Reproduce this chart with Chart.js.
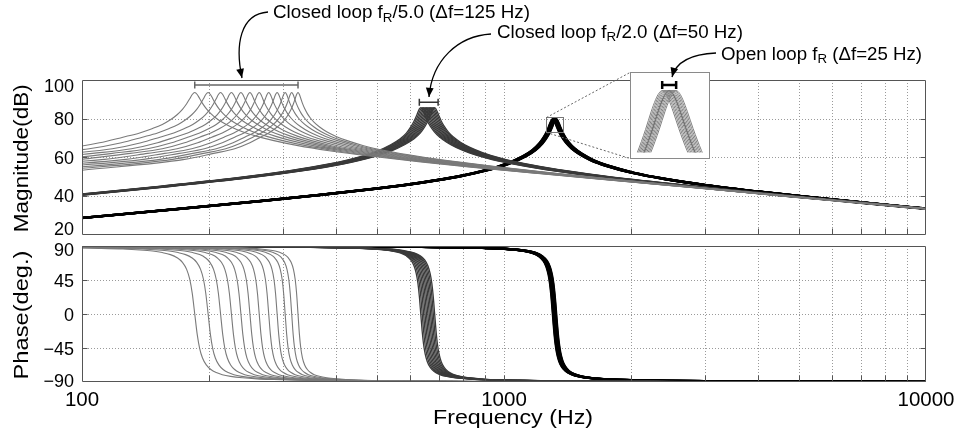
<!DOCTYPE html>
<html>
<head>
<meta charset="utf-8">
<title>Bode plot</title>
<script src="https://cdn.jsdelivr.net/npm/chart.js@4.4.1/dist/chart.umd.min.js"></script>
<style>
  html, body { margin: 0; padding: 0; background: #fff; }
  #wrap { position: relative; width: 964px; height: 433px; overflow: hidden; background: #fff; }
  #wrap canvas { position: absolute; }
</style>
</head>
<body>
<div id="wrap">
  <canvas id="magChart" width="964" height="240" style="left:0;top:0"></canvas>
  <canvas id="phaseChart" width="964" height="193" style="left:0;top:240px"></canvas>
  <canvas id="insetChart" width="80" height="87" style="left:630px;top:72px"></canvas>
  <canvas id="notes" width="964" height="170" style="left:0;top:0"></canvas>
</div>
<script>
// axes
const freqGrid = [200, 300, 400, 500, 600, 700, 800, 900, 1000, 2000, 3000, 4000, 5000, 6000, 7000, 8000, 9000];
const freqLabels = [100, 1000, 10000];
const magTicks = [20, 40, 60, 80, 100];
const magGrid = [40, 60, 80];
const phaseTicks = [-90, -45, 0, 45, 90];
const phaseGrid = [-45, 0, 45];
const magTitle = 'Magnitude(dB)';
const phaseTitle = 'Phase(deg.)';
const freqTitle = 'Frequency (Hz)';

// closed loop fR/5.0 : resonances (Hz), shape read around a peak as offsets in Hz
const fastPeaks = [185, 199, 213, 226, 238, 250, 263, 277, 290, 303, 314, 325];
const fastOffsets = [-225, -150, -120, -95, -75, -60, -48, -38, -30, -23, -17, -12, -8, -5, -2.5, 0,
  2.5, 5, 8, 12, 17, 23, 30, 40, 55, 75, 100, 140, 200, 300, 450, 650, 1000, 1500, 2500, 4000, 6500, 10000];
const fastMag = [53.3, 58.9, 62.0, 64.4, 67.5, 70.4, 72.6, 74.9, 77.0, 79.4, 82.0, 84.8, 87.7, 90.3, 92.5, 93.5,
  92.5, 90.4, 87.9, 85.2, 82.6, 80.2, 78.1, 75.8, 73.2, 70.8, 68.6, 66.0, 63.4, 60.5, 57.6, 54.9, 51.7, 48.6, 44.6, 40.8, 36.7, 33.1];
const fastPhase = [89.4, 88.9, 88.4, 87.8, 86.9, 86.0, 84.8, 83.3, 81.3, 78.6, 74.5, 68.4, 59.1, 46.0, 27.2, 0,
  -27.0, -45.4, -58.3, -67.4, -73.5, -77.5, -80.3, -82.5, -84.4, -85.8, -86.7, -87.6, -88.2, -88.7, -89.1, -89.3, -89.5, -89.7, -89.8, -89.9, -89.9, -89.9];

// closed loop fR/2.0 : resonances, and the middle curve (660 Hz) read at these frequencies
const midPeaks = [635, 640, 645, 650, 655, 660, 665, 670, 675, 680, 685];
const midRef = 660;
const midFreqs = [60, 100, 160, 240, 320, 400, 470, 520, 560, 590, 610, 625, 636, 644, 650, 655, 660,
  665, 670, 676, 684, 695, 710, 730, 760, 800, 860, 950, 1080, 1300, 1660, 2260, 3260, 4960, 7160, 10600];
const midMag = [36.1, 40.7, 45.1, 49.3, 52.9, 56.5, 60.1, 63.2, 66.5, 69.6, 72.5, 75.7, 78.6, 81.2, 83.4, 85.0, 85.7,
  85.0, 83.4, 81.3, 78.8, 76.1, 73.3, 70.6, 67.8, 65.1, 62.3, 59.4, 56.7, 53.6, 50.4, 47.0, 43.4, 39.5, 36.3, 32.8];
const midPhase = [89.8, 89.7, 89.5, 89.1, 88.7, 88.0, 87.0, 85.7, 83.7, 80.8, 77.0, 71.6, 63.9, 53.5, 40.1, 22.8, 0,
  -22.5, -39.7, -52.8, -63.1, -70.7, -76.1, -79.8, -82.7, -84.6, -86.1, -87.2, -88.0, -88.6, -89.0, -89.3, -89.6, -89.7, -89.8, -89.9];

// open loop fR : resonances, and the middle curve (1317.5 Hz)
const openPeaks = [1305, 1307.5, 1310, 1312.5, 1315, 1317.5, 1320, 1322.5, 1325, 1327.5, 1330];
const openRef = 1317.5;
const openFreqs = [77.5, 167.5, 267.5, 367.5, 497.5, 637.5, 777.5, 917.5, 1027.5, 1117.5, 1177.5, 1222.5, 1252.5,
  1272.5, 1287.5, 1297.5, 1305.5, 1311.5, 1317.5, 1323.5, 1329.5, 1337.5, 1347.5, 1362.5, 1382.5, 1412.5, 1457.5,
  1517.5, 1617.5, 1767.5, 2017.5, 2417.5, 3017.5, 4017.5, 5517.5, 7517.5, 10500];
const openMag = [26.3, 33.1, 37.4, 40.5, 43.8, 46.9, 50.0, 53.5, 56.9, 60.5, 63.7, 67.1, 70.3, 73.0, 75.5, 77.4, 78.7, 79.4, 79.7,
  79.4, 78.7, 77.4, 75.6, 73.2, 70.6, 67.7, 64.6, 61.8, 58.5, 55.4, 52.0, 48.7, 45.5, 42.2, 39.0, 36.0, 33.0];
const openPhase = [89.9, 89.7, 89.6, 89.4, 89.1, 88.7, 88.1, 87.2, 85.9, 83.7, 80.9, 76.4, 70.3, 62.5, 51.8, 40.1, 26.8, 14.1, 0,
  -14.0, -26.6, -39.7, -51.2, -61.6, -69.4, -75.4, -79.8, -82.7, -85.0, -86.5, -87.6, -88.4, -88.9, -89.2, -89.5, -89.6, -89.7];

// spread markers (Hz range, level in dB) and the zoomed window
const fastBar = [185, 325];
const fastBarDb = 97.4;
const midBar = [630, 698];
const midBarDb = 88.5;
const openBar = [1305, 1330];
const openBarDb = 80.3;
const insetFreq = [1259, 1379];
const insetDb = [73, 81];

const notes = [
  ['Closed loop f', 'R', '/5.0 (\u0394f=125 Hz)'],
  ['Closed loop f', 'R', '/2.0 (\u0394f=50 Hz)'],
  ['Open loop f', 'R', ' (\u0394f=25 Hz)']
];

const FONT = '"Liberation Sans", Arial, Helvetica, sans-serif';

// the same peak moved to another resonance: by a Hz offset, or by scaling the frequencies
function offsetCurve(f0, offsets, values) {
  return offsets.map((d, i) => ({ x: f0 + d, y: values[i] })).filter(p => p.x > 30);
}
function scaledCurve(f0, ref, freqs, values) {
  return freqs.map((f, i) => ({ x: f * f0 / ref, y: values[i] }));
}

function lineSet(data, color, width) {
  return {
    data: data,
    borderColor: color,
    borderWidth: width,
    pointRadius: 0,
    cubicInterpolationMode: 'monotone',
    fill: false
  };
}

function barSet(range, level, color, width, cap) {
  return {
    data: range.map(f => ({ x: f, y: level })),
    borderColor: color,
    borderWidth: width,
    pointStyle: 'line',
    pointRotation: 90,
    pointRadius: cap,
    pointBorderWidth: width,
    pointBorderColor: color,
    fill: false
  };
}

function tickText(v) {
  return v < 0 ? '\u2212' + (-v) : String(v);
}

// text squeezed/stretched to the width measured on the picture
function drawText(ctx, text, x, y, size, width, align) {
  ctx.save();
  ctx.font = size + 'px ' + FONT;
  const sx = width ? width / ctx.measureText(text).width : 1;
  ctx.translate(x, y);
  ctx.scale(sx, 1);
  ctx.textAlign = align || 'left';
  ctx.textBaseline = 'alphabetic';
  ctx.fillText(text, 0, 0);
  ctx.restore();
}

const bodeFrame = {
  id: 'bodeFrame',
  beforeDatasetsDraw(chart, args, o) {
    const { ctx, chartArea: a, scales: { x, y } } = chart;
    ctx.save();
    ctx.strokeStyle = '#9a9a9a';
    ctx.lineWidth = 1;
    ctx.setLineDash([1, 2]);
    ctx.beginPath();
    freqGrid.forEach(f => {
      const px = Math.round(x.getPixelForValue(f)) + 0.5;
      ctx.moveTo(px, a.top);
      ctx.lineTo(px, a.bottom);
    });
    o.grid.forEach(v => {
      const py = Math.round(y.getPixelForValue(v)) + 0.5;
      ctx.moveTo(a.left, py);
      ctx.lineTo(a.right, py);
    });
    ctx.stroke();
    ctx.restore();
  },
  afterDatasetsDraw(chart, args, o) {
    const { ctx, chartArea: a, scales: { x, y } } = chart;
    const L = Math.round(a.left) + 0.5, R = Math.round(a.right) - 0.5;
    const T = Math.round(a.top) + 0.5, B = Math.round(a.bottom) - 0.5;
    ctx.save();
    ctx.strokeStyle = '#555';
    ctx.lineWidth = 1;
    ctx.beginPath();
    ctx.rect(L, T, R - L, B - T);
    freqGrid.forEach(f => {
      const px = Math.round(x.getPixelForValue(f)) + 0.5;
      ctx.moveTo(px, B);
      ctx.lineTo(px, B - 6);
    });
    o.grid.forEach(v => {
      const py = Math.round(y.getPixelForValue(v)) + 0.5;
      ctx.moveTo(L, py); ctx.lineTo(L + 5, py);
      ctx.moveTo(R, py); ctx.lineTo(R - 5, py);
    });
    ctx.stroke();

    ctx.fillStyle = '#000';
    o.ticks.forEach(v => {
      const py = Math.min(Math.max(y.getPixelForValue(v), a.top + o.edge[0]), a.bottom - o.edge[1]);
      drawText(ctx, tickText(v), a.left - 8, py + 6.5, 18, 0, 'right');
    });
    if (o.xLabels) {
      freqLabels.forEach(f => drawText(ctx, String(f), x.getPixelForValue(f), a.bottom + 23.5, 20.5, 0, 'center'));
      drawText(ctx, freqTitle, 513, a.bottom + 41.5, 20, 160, 'center');
    }
    ctx.translate(27.5, (a.top + a.bottom) / 2 + 1);
    ctx.rotate(-Math.PI / 2);
    drawText(ctx, o.title, 0, 0, 20, o.titleWidth, 'center');
    ctx.restore();
  }
};

function bodeChart(id, datasets, yRange, pad, frame) {
  return new Chart(document.getElementById(id), {
    type: 'line',
    data: { datasets: datasets },
    plugins: [bodeFrame],
    options: {
      responsive: false,
      animation: false,
      events: [],
      layout: { padding: pad },
      elements: { line: { capBezierPoints: false } },
      plugins: { legend: { display: false }, tooltip: { enabled: false }, bodeFrame: frame },
      scales: {
        x: { type: 'logarithmic', min: 100, max: 10000, display: false },
        y: { type: 'linear', min: yRange[0], max: yRange[1], display: false }
      }
    }
  });
}

function groupSets(fast, mid, open) {
  return [
    ...fastPeaks.map(f0 => lineSet(offsetCurve(f0, fastOffsets, fast), '#7a7a7a', 1.1)),
    ...midPeaks.map(f0 => lineSet(scaledCurve(f0, midRef, midFreqs, mid), '#3a3a3a', 1.3)),
    ...openPeaks.map(f0 => lineSet(scaledCurve(f0, openRef, openFreqs, open), '#000', 2.2))
  ];
}

const magChart = bodeChart('magChart', [
  ...groupSets(fastMag, midMag, openMag),
  barSet(fastBar, fastBarDb, '#666', 1.5, 3.5),
  barSet(midBar, midBarDb, '#333', 1.5, 3.5)
], [20, 100], { left: 82, right: 38, top: 80, bottom: 3 },
  { grid: magGrid, ticks: magTicks, edge: [5.5, 6], title: magTitle, titleWidth: 148 });

const phaseChart = bodeChart('phaseChart', groupSets(fastPhase, midPhase, openPhase),
  [-90, 90], { left: 82, right: 38, top: 6, bottom: 51 },
  { grid: phaseGrid, ticks: phaseTicks, edge: [3, 2], title: phaseTitle, titleWidth: 129, xLabels: true });

const insetFrame = {
  id: 'insetFrame',
  beforeDraw(chart) {
    const ctx = chart.ctx;
    ctx.save();
    ctx.fillStyle = '#fff';
    ctx.fillRect(0, 0, chart.width, chart.height);
    ctx.restore();
  },
  afterDraw(chart) {
    const ctx = chart.ctx;
    ctx.save();
    ctx.strokeStyle = '#8a8a8a';
    ctx.lineWidth = 1;
    ctx.strokeRect(0.5, 0.5, chart.width - 1, chart.height - 1);
    ctx.restore();
  }
};

const insetChart = new Chart(document.getElementById('insetChart'), {
  type: 'line',
  data: {
    datasets: [
      ...openPeaks.map(f0 => lineSet(scaledCurve(f0, openRef, openFreqs, openMag), '#808080', 1)),
      lineSet(scaledCurve(openRef, openRef, openFreqs, openMag), '#000', 1),
      barSet(openBar, openBarDb, '#000', 2.5, 4)
    ]
  },
  plugins: [insetFrame],
  options: {
    responsive: false,
    animation: false,
    events: [],
    layout: { padding: 0 },
    elements: { line: { capBezierPoints: false } },
    plugins: { legend: { display: false }, tooltip: { enabled: false } },
    scales: {
      x: { type: 'linear', min: insetFreq[0], max: insetFreq[1], display: false },
      y: { type: 'linear', min: insetDb[0], max: insetDb[1], display: false }
    }
  }
});

function arrow(ctx, p) {
  ctx.beginPath();
  ctx.moveTo(p[0], p[1]);
  ctx.bezierCurveTo(p[2], p[3], p[4], p[5], p[6], p[7]);
  ctx.stroke();
  const ang = Math.atan2(p[7] - p[5], p[6] - p[4]);
  ctx.beginPath();
  ctx.moveTo(p[6], p[7]);
  ctx.lineTo(p[6] - 10 * Math.cos(ang - 0.4), p[7] - 10 * Math.sin(ang - 0.4));
  ctx.lineTo(p[6] - 10 * Math.cos(ang + 0.4), p[7] - 10 * Math.sin(ang + 0.4));
  ctx.closePath();
  ctx.fill();
}

function drawNote(ctx, parts, x, y, width) {
  ctx.save();
  ctx.font = '17.5px ' + FONT;
  const w1 = ctx.measureText(parts[0]).width;
  const w3 = ctx.measureText(parts[2]).width;
  ctx.font = '12.5px ' + FONT;
  const w2 = ctx.measureText(parts[1]).width;
  ctx.translate(x, y);
  ctx.scale(width / (w1 + w2 + w3), 1);
  ctx.fillStyle = '#000';
  ctx.font = '17.5px ' + FONT;
  ctx.fillText(parts[0], 0, 0);
  ctx.fillText(parts[2], w1 + w2, 0);
  ctx.font = '12.5px ' + FONT;
  ctx.fillText(parts[1], w1, 3.5);
  ctx.restore();
}

function drawNotes() {
  const ctx = document.getElementById('notes').getContext('2d');
  const xs = magChart.scales.x, ys = magChart.scales.y;

  // window on the open loop peak and its zoom lines
  const bx1 = Math.round(xs.getPixelForValue(insetFreq[0])) + 0.5;
  const bx2 = Math.round(xs.getPixelForValue(insetFreq[1])) + 0.5;
  const by1 = Math.round(ys.getPixelForValue(insetDb[1])) + 0.5;
  const by2 = Math.round(ys.getPixelForValue(insetDb[0])) + 0.5;
  ctx.strokeStyle = '#777';
  ctx.lineWidth = 1;
  ctx.strokeRect(bx1, by1, bx2 - bx1, by2 - by1);
  ctx.save();
  ctx.setLineDash([2, 2]);
  ctx.strokeStyle = '#666';
  ctx.beginPath();
  ctx.moveTo(bx1, by1); ctx.lineTo(630, 72.5);
  ctx.moveTo(bx1, by2); ctx.lineTo(630, 158.5);
  ctx.stroke();
  ctx.restore();

  drawNote(ctx, notes[0], 273, 18, 257);
  drawNote(ctx, notes[1], 497, 37.5, 246);
  drawNote(ctx, notes[2], 721, 59.5, 201);

  ctx.strokeStyle = '#000';
  ctx.fillStyle = '#000';
  ctx.lineWidth = 1.3;
  arrow(ctx, [268, 12, 240, 14, 235, 45, 242, 78]);
  arrow(ctx, [491, 34, 458, 36, 432, 60, 429, 97]);
  arrow(ctx, [716, 53, 692, 54, 676, 62, 672, 77]);
}

drawNotes();
</script>
</body>
</html>
